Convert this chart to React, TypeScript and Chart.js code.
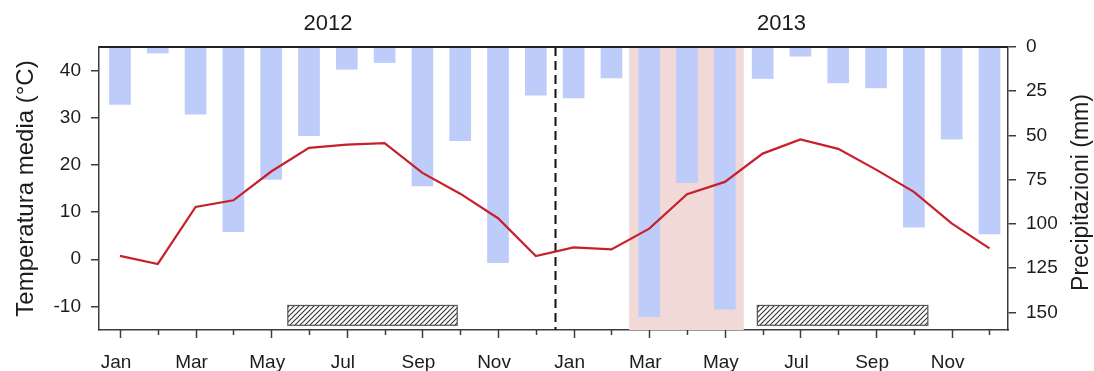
import React, { useEffect, useRef } from 'react';
import { Chart, registerables } from 'chart.js';

Chart.register(...registerables);

// Month names and the two years covered (index 0 = Jan 2012, 23 = Dec 2013)
const monthNames = ['Jan', 'Feb', 'Mar', 'Apr', 'May', 'Jun', 'Jul', 'Aug', 'Sep', 'Oct', 'Nov', 'Dec'];
const years = ['2012', '2013'];

// Monthly precipitation (mm)
const precip2012 = [32.5, 3.4, 38, 104.4, 74.8, 50.2, 12.6, 8.8, 78.6, 53, 121.9, 27.3];
const precip2013 = [28.8, 17.5, 152.4, 76.7, 148.2, 17.8, 5.2, 20.3, 23.1, 101.9, 52.1, 105.7];

// Monthly mean temperature (°C)
const temp2012 = [0.7, -1.0, 11.1, 12.5, 18.6, 23.6, 24.3, 24.6, 18.3, 13.9, 8.7, 0.7];
const temp2013 = [2.5, 2.1, 6.5, 13.8, 16.4, 22.4, 25.4, 23.4, 19.0, 14.3, 7.6, 2.3];

// Axis ticks
const tempTicks = [-10, 0, 10, 20, 30, 40];
const precipTicks = [0, 25, 50, 75, 100, 125, 150];

// Periods in month-index units
const hatchedPeriods = [
  [4.44, 8.92],
  [16.86, 21.37],
];
const hatchedTempRange = [-14, -9.8];
const shadedPeriod = [13.47, 16.5];
const yearDivider = 11.5;

// Axis ranges
const tempRange = [-15, 45];
const precipRange = [0, 160];

const FONT = '"Liberation Sans", Arial, Helvetica, sans-serif';
const INK = '#1c1c1c';
const AXIS = '#3c3c3c';

const allPrecip = [...precip2012, ...precip2013];
const allTemp = [...temp2012, ...temp2013];

function makeHatch(ctx: CanvasRenderingContext2D): CanvasPattern | string {
  const size = 5;
  const c = document.createElement('canvas');
  c.width = size;
  c.height = size;
  const p = c.getContext('2d');
  if (!p) return '#888';
  p.fillStyle = '#ffffff';
  p.fillRect(0, 0, size, size);
  p.strokeStyle = '#333';
  p.lineWidth = 1.1;
  p.beginPath();
  p.moveTo(-1, size + 1);
  p.lineTo(size + 1, -1);
  p.moveTo(-1, 1);
  p.lineTo(1, -1);
  p.moveTo(size - 1, size + 1);
  p.lineTo(size + 1, size - 1);
  p.stroke();
  return ctx.createPattern(c, 'repeat') || '#888';
}

const overlays = {
  id: 'overlays',
  beforeDatasetsDraw(chart: any) {
    const { ctx, chartArea: a, scales } = chart;
    const x = scales.x;
    const yT = scales.yT;
    ctx.save();

    // shaded spring period
    const s0 = x.getPixelForValue(shadedPeriod[0]);
    const s1 = x.getPixelForValue(shadedPeriod[1]);
    ctx.fillStyle = 'rgb(241, 217, 216)';
    ctx.fillRect(s0, a.top, s1 - s0, a.bottom - a.top);

    // hatched bars near the bottom
    const pat = makeHatch(ctx);
    for (const [p0, p1] of hatchedPeriods) {
      const x0 = x.getPixelForValue(p0);
      const x1 = x.getPixelForValue(p1);
      const yTop = yT.getPixelForValue(hatchedTempRange[1]);
      const yBot = yT.getPixelForValue(hatchedTempRange[0]);
      ctx.fillStyle = pat;
      ctx.fillRect(x0, yTop, x1 - x0, yBot - yTop);
      ctx.strokeStyle = '#555';
      ctx.lineWidth = 1.2;
      ctx.strokeRect(x0, yTop, x1 - x0, yBot - yTop);
    }

    // dashed divider between the years
    const dx = Math.round(x.getPixelForValue(yearDivider)) + 0.5;
    ctx.strokeStyle = '#111';
    ctx.lineWidth = 2;
    ctx.setLineDash([9, 5]);
    ctx.beginPath();
    ctx.moveTo(dx, a.top);
    ctx.lineTo(dx, a.bottom);
    ctx.stroke();
    ctx.restore();
  },
  afterDraw(chart: any) {
    const { ctx, chartArea: a, scales } = chart;
    const x = scales.x;
    ctx.save();

    // top frame line
    ctx.strokeStyle = '#222';
    ctx.lineWidth = 2;
    ctx.beginPath();
    ctx.moveTo(a.left, a.top);
    ctx.lineTo(a.right, a.top);
    ctx.stroke();

    // month tick marks: longer on labelled months
    ctx.strokeStyle = AXIS;
    ctx.lineWidth = 1.5;
    for (let i = 0; i < allTemp.length; i++) {
      const px = Math.round(x.getPixelForValue(i)) + 0.5;
      const len = i % 2 === 0 ? 8 : 5;
      ctx.beginPath();
      ctx.moveTo(px, a.bottom);
      ctx.lineTo(px, a.bottom + len);
      ctx.stroke();
    }

    // year headings
    ctx.fillStyle = INK;
    ctx.font = `22px ${FONT}`;
    ctx.textAlign = 'center';
    ctx.textBaseline = 'alphabetic';
    years.forEach((yr, k) => {
      ctx.fillText(yr, x.getPixelForValue(k * 12 + 5.5), 29.5);
    });

    // axis titles, both reading bottom to top
    ctx.font = `24px ${FONT}`;
    ctx.save();
    ctx.translate(a.left - 66, (a.top + a.bottom) / 2);
    ctx.rotate(-Math.PI / 2);
    ctx.fillText('Temperatura media (°C)', 0, 0);
    ctx.restore();

    ctx.font = `23px ${FONT}`;
    ctx.save();
    ctx.translate(a.right + 80, (a.top + a.bottom) / 2 + 4);
    ctx.rotate(-Math.PI / 2);
    ctx.fillText('Precipitazioni (mm)', 0, 0);
    ctx.restore();

    ctx.restore();
  },
};

export default function App() {
  const ref = useRef<HTMLCanvasElement | null>(null);

  useEffect(() => {
    if (!ref.current) return;
    const chart = new Chart(ref.current, {
      type: 'bar',
      data: {
        datasets: [
          {
            type: 'line',
            label: 'Temperatura media',
            data: allTemp.map((v, i) => ({ x: i, y: v })),
            yAxisID: 'yT',
            xAxisID: 'x',
            borderColor: 'rgb(200, 32, 42)',
            borderWidth: 2.2,
            pointRadius: 0,
            tension: 0,
            order: 1,
          } as any,
          {
            type: 'bar',
            label: 'Precipitazioni',
            data: allPrecip.map((v, i) => ({ x: i, y: v })),
            yAxisID: 'yP',
            xAxisID: 'x',
            backgroundColor: 'rgb(190, 204, 250)',
            borderWidth: 0,
            barThickness: 21,
            order: 2,
          } as any,
        ],
      },
      options: {
        animation: false,
        responsive: false,
        devicePixelRatio: 1,
        layout: { padding: { top: 47, left: 0, right: 0, bottom: 0 } },
        plugins: { legend: { display: false }, tooltip: { enabled: false } },
        scales: {
          x: {
            type: 'linear',
            position: 'bottom',
            min: -0.555,
            max: 23.49,
            offset: false,
            grid: { display: false, offset: false },
            border: { display: true, color: AXIS, width: 1.5 },
            afterFit: (s: any) => {
              s.height = 41;
            },
            afterBuildTicks: (s: any) => {
              s.ticks = allTemp.map((_, i) => ({ value: i }));
            },
            ticks: {
              autoSkip: false,
              maxRotation: 0,
              padding: 13,
              labelOffset: -4,
              color: INK,
              font: { family: FONT, size: 19 },
              callback: (v: any) => (Number(v) % 2 === 0 ? monthNames[Number(v) % 12] : ''),
            },
          },
          yT: {
            type: 'linear',
            position: 'left',
            min: tempRange[0],
            max: tempRange[1],
            grid: { drawOnChartArea: false, tickLength: 8, color: AXIS, lineWidth: 1.5 },
            border: { display: true, color: AXIS, width: 1.5 },
            afterFit: (s: any) => {
              s.width = 99;
            },
            afterBuildTicks: (s: any) => {
              s.ticks = tempTicks.map((v) => ({ value: v }));
            },
            ticks: {
              autoSkip: false,
              padding: 10,
              color: INK,
              font: { family: FONT, size: 19 },
            },
          },
          yP: {
            type: 'linear',
            position: 'right',
            reverse: true,
            min: precipRange[0],
            max: precipRange[1],
            grid: { drawOnChartArea: false, tickLength: 8, color: AXIS, lineWidth: 1.5 },
            border: { display: true, color: AXIS, width: 1.5 },
            afterFit: (s: any) => {
              s.width = 86;
            },
            afterBuildTicks: (s: any) => {
              s.ticks = precipTicks.map((v) => ({ value: v }));
            },
            ticks: {
              autoSkip: false,
              padding: 10,
              color: INK,
              font: { family: FONT, size: 19 },
            },
          },
        },
      },
      plugins: [overlays],
    });
    return () => chart.destroy();
  }, []);

  return (
    <div style={{ position: 'absolute', left: 0, top: 0, width: 1094, height: 371, background: '#fff' }}>
      <canvas ref={ref} width={1094} height={371} />
    </div>
  );
}
